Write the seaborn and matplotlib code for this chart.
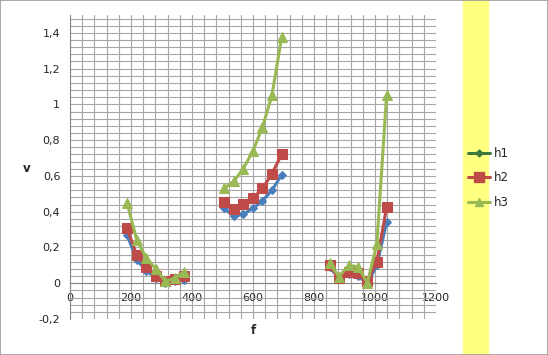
import numpy as np
import pandas as pd
import matplotlib
matplotlib.use("Agg")
import matplotlib.pyplot as plt
from matplotlib.lines import Line2D
from matplotlib.ticker import MultipleLocator, FuncFormatter
import seaborn as sns

# frequency groups (three separate sweeps)
f1 = [187, 219, 250, 281, 313, 344, 375]
f2 = [505, 537, 568, 600, 631, 662, 694]
f3 = [851, 881, 914, 943, 975, 1006, 1038]

h1_1 = [0.27, 0.13, 0.07, 0.03, 0.00, 0.01, 0.02]
h1_2 = [0.42, 0.375, 0.385, 0.42, 0.46, 0.52, 0.605]
h1_3 = [0.09, 0.03, 0.05, 0.04, 0.00, 0.10, 0.34]

h2_1 = [0.307, 0.158, 0.093, 0.04, 0.01, 0.026, 0.04]
h2_2 = [0.452, 0.415, 0.442, 0.476, 0.53, 0.612, 0.721]
h2_3 = [0.10, 0.032, 0.065, 0.056, 0.013, 0.12, 0.424]

h3_1 = [0.45, 0.24, 0.143, 0.08, 0.01, 0.03, 0.065]
h3_2 = [0.53, 0.57, 0.64, 0.74, 0.872, 1.05, 1.376]
h3_3 = [0.115, 0.037, 0.10, 0.093, 0.004, 0.218, 1.05]

series = {"h1": [h1_1, h1_2, h1_3], "h2": [h2_1, h2_2, h2_3], "h3": [h3_1, h3_2, h3_3]}
freqs = [f1, f2, f3]

rows = []
for name, parts in series.items():
    for k, (ff, vv) in enumerate(zip(freqs, parts)):
        for a, b in zip(ff, vv):
            rows.append({"f": a, "v": b, "series": name, "seg": k})
df = pd.DataFrame(rows)

colors = {"h1": "#4A7EBB", "h2": "#BE4B48", "h3": "#98B954"}
markers = {"h1": "D", "h2": "s", "h3": "^"}

sns.set_style("white")
plt.rcParams["font.family"] = ["DejaVu Sans"]

fig = plt.figure(figsize=(5.48, 3.55), dpi=100)
fig.patches.append(plt.Rectangle((463 / 548, 0), 25 / 548, 1, transform=fig.transFigure,
                                 color="#FFFF80", zorder=0))
fig.patches.append(plt.Rectangle((0, 0), 1, 1, transform=fig.transFigure, fill=False,
                                 edgecolor="#9a9a9a", lw=1.2, zorder=0))

ax = fig.add_axes([70 / 548, 1 - 319 / 355, 366 / 548, 304 / 355])
ax.set_facecolor("none")

sizes = {"h1": 4, "h2": 7, "h3": 7.5}
for name in ["h1", "h2", "h3"]:
    sub = df[df["series"] == name]
    sns.lineplot(data=sub, x="f", y="v", units="seg", estimator=None, color=colors[name],
                 marker=markers[name], markersize=sizes[name], markeredgecolor=colors[name],
                 linewidth=2.2, ax=ax, legend=False, zorder=3)

ax.set_xlim(0, 1200)
ax.set_ylim(-0.2, 1.5)
ax.xaxis.set_major_locator(MultipleLocator(200))
ax.xaxis.set_minor_locator(MultipleLocator(40))
ax.yaxis.set_major_locator(MultipleLocator(0.2))
ax.yaxis.set_minor_locator(MultipleLocator(0.04))
ax.set_yticks(np.arange(-0.2, 1.41, 0.2))
ax.yaxis.set_major_formatter(FuncFormatter(lambda y, p: ("%g" % round(y, 2)).replace(".", ",")))
ax.grid(True, which="both", color="#a6a6a6", linewidth=0.8)
ax.set_axisbelow(True)

for s in ["top", "right"]:
    ax.spines[s].set_visible(False)
ax.spines["bottom"].set_position(("data", 0))
ax.spines["left"].set_color("#868686")
ax.spines["bottom"].set_color("#868686")
ax.tick_params(axis="both", which="major", direction="out", length=4, color="#868686",
               labelsize=8, pad=3)
ax.tick_params(axis="both", which="minor", length=0)

ax.set_xlabel("")
ax.set_ylabel("")
fig.text(253 / 548, 1 - 330 / 355, "f", ha="center", va="center", fontsize=8.5, fontweight="bold")
fig.text(27 / 548, 1 - 168 / 355, "v", ha="center", va="center", fontsize=8.5, fontweight="bold")

handles = [Line2D([], [], color="#3C7A3C", marker="D", markersize=3.5, lw=2.2),
           Line2D([], [], color=colors["h2"], marker="s", markersize=6.5, lw=2.2),
           Line2D([], [], color=colors["h3"], marker="^", markersize=6, lw=2.2)]
fig.legend(handles, ["h1", "h2", "h3"], loc="center left", bbox_to_anchor=(468 / 548, 1 - 178 / 355),
           frameon=False, fontsize=8.5, handlelength=1.9, handletextpad=0.25, labelspacing=0.95,
           borderaxespad=0, borderpad=0)

fig.savefig("out.png", dpi=100)
